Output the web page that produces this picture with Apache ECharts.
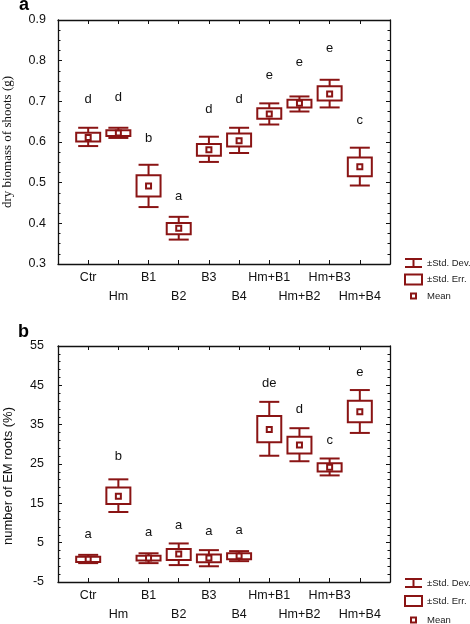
<!DOCTYPE html>
<html>
<head>
<meta charset="utf-8">
<script src="https://cdn.jsdelivr.net/npm/echarts@6/dist/echarts.min.js"></script>
<style>html,body{margin:0;padding:0;background:#fff;}#c{width:470px;height:624px;}</style>
</head>
<body>
<div id="c"></div>
<script>
// ---------- DATA ----------
const cats = ['Ctr','Hm','B1','B2','B3','B4','Hm+B1','Hm+B2','Hm+B3','Hm+B4'];

// Panel a: dry biomass of shoots (g)
const biomassMean   = [0.611,0.622,0.492,0.388,0.581,0.603,0.669,0.695,0.718,0.539];
const biomassSeLow  = [0.601,0.615,0.466,0.373,0.566,0.589,0.657,0.685,0.702,0.516];
const biomassSeHigh = [0.623,0.629,0.518,0.401,0.595,0.621,0.683,0.704,0.737,0.562];
const biomassSdLow  = [0.590,0.610,0.440,0.360,0.551,0.573,0.643,0.675,0.685,0.493];
const biomassSdHigh = [0.635,0.635,0.544,0.416,0.613,0.635,0.695,0.712,0.753,0.586];
const biomassLetters = ['d','d','b','a','d','d','e','e','e','c'];
const biomassLetterY = [0.704,0.710,0.609,0.466,0.681,0.704,0.764,0.796,0.829,0.654];
const biomassTicks = [0.3,0.4,0.5,0.6,0.7,0.8,0.9];

// Panel b: number of EM roots (%)
const emMean   = [0.8,16.8,1.1,2.1,1.1,1.6,33.8,29.8,24.2,38.3];
const emSeLow  = [0.1,14.8,0.45,0.6,0.0,0.8,30.5,27.7,23.1,35.6];
const emSeHigh = [1.45,19.0,1.7,3.4,2.0,2.3,37.2,31.9,25.2,41.1];
const emSdLow  = [-0.2,12.8,-0.2,-0.7,-1.0,0.3,27.1,25.7,22.1,32.9];
const emSdHigh = [1.9,21.1,2.3,4.8,3.1,2.85,40.8,34.1,26.4,43.8];
const emLetters = ['a','b','a','a','a','a','de','d','c','e'];
const emLetterY = [7.2,26.9,7.6,9.4,7.9,8.1,45.5,38.8,30.9,48.2];
const emTicks = [-5,5,15,25,35,45,55];

// ---------- STYLE ----------
const RED = '#8a1414';
const FONT = 'Liberation Sans, Arial, sans-serif';
const BOX_W = 24, CAP_W = 20, MEAN_W = 5, LW = 2;

function boxData(mean, seL, seH, sdL, sdH) {
  return cats.map((c, i) => [i + 1, mean[i], seL[i], seH[i], sdL[i], sdH[i]]);
}
function letterData(ys, letters) {
  return cats.map((c, i) => [i + 1, ys[i], letters[i]]);
}

function renderBox(params, api) {
  const x = api.value(0);
  const pm = api.coord([x, api.value(1)]);
  const seL = api.coord([x, api.value(2)])[1];
  const seH = api.coord([x, api.value(3)])[1];
  const sdL = api.coord([x, api.value(4)])[1];
  const sdH = api.coord([x, api.value(5)])[1];
  const cx = pm[0];
  const ls = { stroke: RED, lineWidth: LW, fill: null };
  return {
    type: 'group',
    children: [
      { type: 'line', shape: { x1: cx, y1: sdH, x2: cx, y2: seH }, style: ls },
      { type: 'line', shape: { x1: cx, y1: seL, x2: cx, y2: sdL }, style: ls },
      { type: 'line', shape: { x1: cx - CAP_W/2, y1: sdH, x2: cx + CAP_W/2, y2: sdH }, style: ls },
      { type: 'line', shape: { x1: cx - CAP_W/2, y1: sdL, x2: cx + CAP_W/2, y2: sdL }, style: ls },
      { type: 'rect', shape: { x: cx - BOX_W/2, y: seH, width: BOX_W, height: seL - seH }, style: { stroke: RED, lineWidth: LW, fill: '#fff' } },
      { type: 'rect', shape: { x: cx - MEAN_W/2, y: pm[1] - MEAN_W/2, width: MEAN_W, height: MEAN_W }, style: { stroke: RED, lineWidth: LW, fill: '#fff' } }
    ]
  };
}
function renderLetter(params, api) {
  const p = api.coord([api.value(0), api.value(1)]);
  return {
    type: 'text',
    x: p[0], y: p[1],
    style: { text: String(api.value(2)), textAlign: 'center', textVerticalAlign: 'middle', font: '13px ' + FONT, fill: '#111' }
  };
}

function xAxes(gridIndex) {
  const common = {
    type: 'value', gridIndex, min: 0, max: 11, interval: 1,
    splitLine: { show: false },
    axisLine: { show: true, onZero: false, lineStyle: { color: '#111', width: 1.3 } },
    axisTick: { show: true, inside: true, length: 4, lineStyle: { color: '#111' }, interval: 0 }
  };
  return [
    Object.assign({}, common, {
      position: 'bottom',
      axisLabel: {
        show: true, margin: 4, fontSize: 12.5, fontFamily: FONT, color: '#111', lineHeight: 19,
        verticalAlign: 'top',
        formatter: v => {
          const i = Math.round(v) - 1;
          if (i < 0 || i >= cats.length) return '';
          return (i % 2 === 1 ? '\n' : '') + cats[i];
        }
      }
    }),
    Object.assign({}, common, { position: 'top', axisLabel: { show: false } })
  ];
}
function yAxes(gridIndex, ticks, split, dec, margin) {
  const common = {
    type: 'value', gridIndex,
    min: ticks[0], max: ticks[ticks.length - 1], interval: ticks[1] - ticks[0],
    splitLine: { show: false },
    axisLine: { show: true, onZero: false, lineStyle: { color: '#111', width: 1.3 } },
    axisTick: { show: true, inside: true, length: 4, lineStyle: { color: '#111' } },
    minorTick: { show: true, splitNumber: split, length: 2.5, lineStyle: { color: '#111' } }
  };
  return [
    Object.assign({}, common, {
      position: 'left',
      axisLabel: { show: true, margin, fontSize: 12.5, fontFamily: FONT, color: '#111',
        formatter: v => Number(v).toFixed(dec) }
    }),
    Object.assign({}, common, { position: 'right', axisLabel: { show: false } })
  ];
}

function legend(sdY, seOff, mOff) {
  const lx = 405, tx = 427;
  const ls = { stroke: RED, lineWidth: LW, fill: null };
  const t = (y, s) => ({ type: 'text', x: tx, y, style: { text: s, font: '9.5px ' + FONT, fill: '#222', textVerticalAlign: 'middle' } });
  const seY = sdY + seOff, mY = sdY + mOff;
  return [
    { type: 'line', shape: { x1: lx, y1: sdY - 4, x2: lx + 17, y2: sdY - 4 }, style: ls },
    { type: 'line', shape: { x1: lx, y1: sdY + 4, x2: lx + 17, y2: sdY + 4 }, style: ls },
    { type: 'line', shape: { x1: lx + 8.5, y1: sdY - 4, x2: lx + 8.5, y2: sdY + 4 }, style: ls },
    t(sdY, '±Std. Dev.'),
    { type: 'rect', shape: { x: lx, y: seY - 5, width: 17, height: 10 }, style: ls },
    t(seY, '±Std. Err.'),
    { type: 'rect', shape: { x: lx + 6, y: mY - 2.5, width: 5, height: 5 }, style: ls },
    t(mY, 'Mean')
  ];
}

const option = {
  animation: false,
  backgroundColor: '#fff',
  grid: [
    { left: 58, top: 20, width: 332, height: 244 },
    { left: 58, top: 346, width: 332, height: 241 }
  ],
  xAxis: [].concat(xAxes(0), xAxes(1)),
  yAxis: [].concat(yAxes(0, biomassTicks, 4, 1, 12), yAxes(1, emTicks, 5, 0, 14)),
  series: [
    { type: 'custom', xAxisIndex: 0, yAxisIndex: 0, renderItem: renderBox, data: boxData(biomassMean, biomassSeLow, biomassSeHigh, biomassSdLow, biomassSdHigh), clip: false },
    { type: 'custom', xAxisIndex: 0, yAxisIndex: 0, renderItem: renderLetter, data: letterData(biomassLetterY, biomassLetters), dimensions: ['x','y',{name:'t',type:'ordinal'}] },
    { type: 'custom', xAxisIndex: 2, yAxisIndex: 2, renderItem: renderBox, data: boxData(emMean, emSeLow, emSeHigh, emSdLow, emSdHigh), clip: false },
    { type: 'custom', xAxisIndex: 2, yAxisIndex: 2, renderItem: renderLetter, data: letterData(emLetterY, emLetters), dimensions: ['x','y',{name:'t',type:'ordinal'}] }
  ],
  graphic: [].concat(
    [
      { type: 'text', x: 19, y: 14, style: { text: 'a', font: 'bold 18px ' + FONT, fill: '#000', textVerticalAlign: 'bottom' } },
      { type: 'text', x: 18, y: 341, style: { text: 'b', font: 'bold 18px ' + FONT, fill: '#000', textVerticalAlign: 'bottom' } },
      { type: 'text', x: 8, y: 142, rotation: Math.PI / 2,
        style: { text: 'dry biomass of shoots (g)', font: '13px Liberation Serif, Times New Roman, serif', fill: '#111', textAlign: 'center', textVerticalAlign: 'middle' } },
      { type: 'text', x: 8, y: 476, rotation: Math.PI / 2,
        style: { text: 'number of EM roots (%)', font: '13px ' + FONT, fill: '#111', textAlign: 'center', textVerticalAlign: 'middle' } }
    ],
    legend(263, 16.5, 33), legend(583, 18, 37)
  )
};

const chart = echarts.init(document.getElementById('c'), null, { renderer: 'canvas' });
chart.setOption(option);
</script>
</body>
</html>
